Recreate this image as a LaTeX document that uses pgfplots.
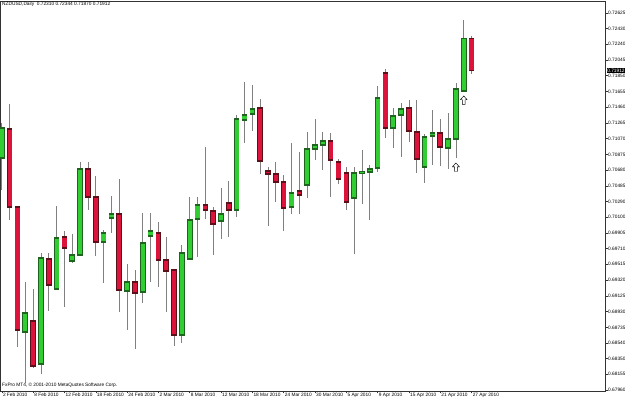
\documentclass[border=0pt]{standalone}
\usepackage{pgfplots}
\pgfplotsset{compat=1.18}
\usepackage{pgfplotstable}
\usepackage{fontspec}
\setmainfont{Liberation Sans}
\definecolor{bullfill}{HTML}{32CD32}
\definecolor{bullline}{HTML}{1E641E}
\definecolor{bearfill}{HTML}{DC143C}
\definecolor{bearline}{HTML}{5A0F19}
\definecolor{wick}{HTML}{808080}

% bullish candles: index open high low close
\pgfplotstableread{
i O H L C
0 0.70831 0.71265 0.70435 0.71202
3 0.68679 0.69297 0.68047 0.68913
5 0.68283 0.69655 0.68158 0.69594
7 0.69211 0.70237 0.69198 0.69841
9 0.69557 0.69891 0.69532 0.69630
10 0.69630 0.70781 0.69619 0.70695
13 0.69792 0.69941 0.69284 0.69903
14 0.70089 0.70361 0.69903 0.70139
16 0.69186 0.69520 0.68703 0.69297
18 0.69173 0.70151 0.69037 0.69780
19 0.69866 0.70151 0.69297 0.69928
23 0.68641 0.69755 0.68542 0.69655
24 0.69582 0.70349 0.69569 0.70064
25 0.70076 0.70349 0.69607 0.70250
28 0.70051 0.70460 0.69829 0.70139
30 0.70188 0.71363 0.70101 0.71314
31 0.71302 0.71772 0.71017 0.71363
32 0.71376 0.71734 0.71165 0.71438
37 0.70225 0.71017 0.70139 0.70398
39 0.70497 0.71153 0.70337 0.70942
40 0.70942 0.71314 0.70806 0.70992
41 0.70992 0.71153 0.70683 0.71042
45 0.70337 0.70720 0.69643 0.70646
46 0.70646 0.70931 0.70262 0.70658
47 0.70658 0.70745 0.70064 0.70695
48 0.70708 0.71722 0.70658 0.71574
50 0.71202 0.71450 0.70955 0.71351
51 0.71363 0.71511 0.70844 0.71438
54 0.70720 0.71128 0.70522 0.71091
55 0.71104 0.71425 0.70745 0.71140
57 0.70955 0.71388 0.70695 0.71067
58 0.71067 0.71759 0.70831 0.71686
59 0.71661 0.72539 0.71661 0.72310
}\bull

% bearish candles: index open high low close
\pgfplotstableread{
i O H L C
1 0.71190 0.71500 0.70064 0.70225
2 0.70225 0.70237 0.68493 0.68703
4 0.68815 0.69211 0.68233 0.68258
6 0.69582 0.69655 0.68938 0.69259
8 0.69853 0.69928 0.68988 0.69718
11 0.70695 0.70781 0.70188 0.70349
12 0.70349 0.70608 0.69619 0.69792
15 0.70139 0.70571 0.68925 0.69198
17 0.69297 0.69445 0.68468 0.69161
20 0.69903 0.70039 0.69235 0.69569
21 0.69569 0.69853 0.68925 0.69434
22 0.69445 0.69457 0.68505 0.68641
26 0.70250 0.70967 0.70076 0.70188
27 0.70176 0.70225 0.69630 0.70014
29 0.70274 0.70547 0.69853 0.70188
33 0.71450 0.71561 0.70633 0.70794
34 0.70671 0.70720 0.69990 0.70633
35 0.70633 0.70781 0.70287 0.70535
36 0.70535 0.70621 0.69928 0.70212
38 0.70423 0.70906 0.70139 0.70374
42 0.71042 0.71140 0.70349 0.70806
43 0.70781 0.70819 0.70510 0.70571
44 0.70646 0.70720 0.70188 0.70287
49 0.71883 0.71932 0.71079 0.71202
52 0.71450 0.71549 0.71029 0.71165
53 0.71153 0.71549 0.70646 0.70819
56 0.71140 0.71314 0.70733 0.70967
60 0.72310 0.72344 0.71870 0.71912
}\bear

\pgfdeclareplotmark{uparr}{%
  \pgfpathmoveto{\pgfqpoint{0pt}{0pt}}%
  \pgfpathlineto{\pgfqpoint{3.4pt}{-3.8pt}}%
  \pgfpathlineto{\pgfqpoint{1.4pt}{-3.8pt}}%
  \pgfpathlineto{\pgfqpoint{1.4pt}{-8.5pt}}%
  \pgfpathlineto{\pgfqpoint{-1.4pt}{-8.5pt}}%
  \pgfpathlineto{\pgfqpoint{-1.4pt}{-3.8pt}}%
  \pgfpathlineto{\pgfqpoint{-3.4pt}{-3.8pt}}%
  \pgfpathclose
  \pgfusepathqfillstroke}

\pgfplotsset{
  ebar/.style={draw=none, mark=none, forget plot,
    error bars/.cd, y dir=plus, y explicit, error mark=none,
    error bar style={#1}},
}
\def\dd{0.0000866}

\begin{document}
\begin{tikzpicture}[font=\fontsize{4.8}{5.5}\selectfont]
\begin{axis}[
  at={(0pt,8pt)}, anchor=south west,
  scale only axis, width=605pt, height=390pt,
  xmin=-0.23, xmax=77.04, ymin=0.67948, ymax=0.72773,
  axis line style={draw=black!80, line width=0.6pt},
  scaled y ticks=false,
  ytick={0.67960,0.68155,0.68350,0.68540,0.68735,0.68930,0.69125,0.69320,0.69515,0.69710,0.69905,0.70100,0.70290,0.70485,0.70680,0.70875,0.71070,0.71265,0.71460,0.71655,0.71850,0.72045,0.72240,0.72430,0.72625},
  yticklabels={0.67960,0.68155,0.68350,0.68540,0.68735,0.68930,0.69125,0.69320,0.69515,0.69710,0.69905,0.70100,0.70290,0.70485,0.70680,0.70875,0.71070,0.71265,0.71460,0.71655,0.71850,0.72045,0.72240,0.72430,0.72625},
  xtick={0,4,...,60},
  xticklabels={2 Feb 2010,8 Feb 2010,12 Feb 2010,18 Feb 2010,24 Feb 2010,2 Mar 2010,8 Mar 2010,12 Mar 2010,18 Mar 2010,24 Mar 2010,30 Mar 2010,5 Apr 2010,9 Apr 2010,15 Apr 2010,21 Apr 2010,27 Apr 2010},
  xtick pos=left, ytick pos=right, yticklabel pos=right,
  tick align=outside, major tick length=2.5pt,
  tick style={draw=black!80, line width=0.5pt},
  xticklabel style={anchor=north west, inner sep=0.5pt, xshift=0.5pt, yshift=1.5pt},
  yticklabel style={anchor=west, inner sep=0.5pt},
]
% wicks
\addplot[ebar={draw=wick, line width=0.8pt}] table[x=i, y=L, y error expr=\thisrow{H}-\thisrow{L}] {\bull};
\addplot[ebar={draw=wick, line width=0.8pt}] table[x=i, y=L, y error expr=\thisrow{H}-\thisrow{L}] {\bear};
% bodies: outline then fill
\addplot[ebar={draw=bullline, line width=5.6pt}] table[x=i, y expr=\thisrow{O}-\dd, y error expr=\thisrow{C}-\thisrow{O}+2*\dd] {\bull};
\addplot[ebar={draw=bullfill, line width=4.2pt}] table[x=i, y expr=\thisrow{O}+\dd, y error expr=\thisrow{C}-\thisrow{O}-2*\dd] {\bull};
\addplot[ebar={draw=bearline, line width=5.6pt}] table[x=i, y expr=\thisrow{C}-\dd, y error expr=\thisrow{O}-\thisrow{C}+2*\dd] {\bear};
\addplot[ebar={draw=bearfill, line width=4.2pt}] table[x=i, y expr=\thisrow{C}+\dd, y error expr=\thisrow{O}-\thisrow{C}-2*\dd] {\bear};
% arrows
\addplot[only marks, mark=uparr, mark options={fill=white, draw=black, line width=0.45pt}]
  coordinates {(58,0.70769) (59,0.71598)};
\coordinate (pricept) at (axis cs:77.04,0.71912);
\end{axis}
\node[fill=black, text=white, anchor=west, inner sep=0.6pt, xshift=1.5pt] at (pricept) {0.71912};
\node[anchor=north west, inner sep=0pt] at (2pt,397pt) {NZDUSD,Daily\ \ 0.72310 0.72344 0.71870 0.71912};
\node[anchor=west, inner sep=0pt] at (2pt,14pt) {FxPro MT4, \textcopyright\ 2001-2010 MetaQuotes Software Corp.};
\pgfresetboundingbox
\path[use as bounding box] (0,0) rectangle (625pt,399pt);
\end{tikzpicture}
\end{document}
